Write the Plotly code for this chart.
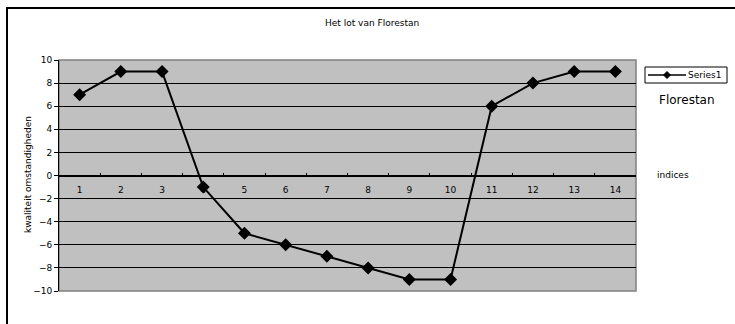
import plotly.graph_objects as go

# Florestan's fortunes over the story indices
indices = ["1", "2", "3", "4", "5", "6", "7", "8", "9", "10", "11", "12", "13", "14"]
kwaliteit = [7, 9, 9, -1, -5, -6, -7, -8, -9, -9, 6, 8, 9, 9]
y_ticks = [-10, -8, -6, -4, -2, 0, 2, 4, 6, 8, 10]
series_name = "Series1"

W, H = 735, 324
L, R, T, B = 59, 636, 60, 291  # plot area in pixels


def px_x(p):
    return (p - L) / (R - L)


def px_y(p):
    return (B - p) / (B - T)


FONT = "DejaVu Sans, Verdana, sans-serif"

fig = go.Figure()
fig.add_trace(go.Scatter(
    x=indices, y=kwaliteit, name=series_name, mode="lines+markers",
    line=dict(color="black", width=2),
    marker=dict(symbol="diamond", size=10, color="black"),
    showlegend=False,
))

fig.update_layout(
    width=W, height=H,
    margin=dict(l=L, r=W - R, t=T, b=H - B),
    paper_bgcolor="white",
    plot_bgcolor="#C0C0C0",
    font=dict(family=FONT, size=9, color="black"),
    xaxis=dict(
        type="category", tickson="boundaries",
        anchor="free", position=0.5,
        showline=True, linecolor="black", linewidth=1,
        ticks="inside", ticklen=3, tickcolor="black",
        showgrid=False, zeroline=False,
        tickfont=dict(size=9), ticklabelstandoff=6,
        range=[-0.5, 13.5],
    ),
    yaxis=dict(
        range=[-10, 10], tickvals=y_ticks,
        showline=True, linecolor="black", linewidth=1,
        ticks="outside", ticklen=4, tickcolor="black",
        showgrid=True, gridcolor="black", gridwidth=1,
        zeroline=False, tickfont=dict(size=9),
    ),
)

# gray border around the plot area
fig.add_shape(type="rect", xref="paper", yref="paper", x0=0, y0=0, x1=1, y1=1,
              line=dict(color="#808080", width=1.5), layer="below")
# outer chart frame
fig.add_shape(type="rect", xref="paper", yref="paper",
              x0=px_x(7), y0=px_y(8), x1=px_x(760), y1=px_y(360),
              line=dict(color="black", width=2))

# legend box with line/diamond key
fig.add_shape(type="rect", xref="paper", yref="paper",
              x0=px_x(645), y0=px_y(83), x1=px_x(727), y1=px_y(67),
              line=dict(color="black", width=1), fillcolor="white")
fig.add_shape(type="line", xref="paper", yref="paper",
              x0=px_x(648), y0=px_y(75), x1=px_x(686), y1=px_y(75),
              line=dict(color="black", width=1.5))
cx, cy, r = 667, 75, 3.5
fig.add_shape(type="path", xref="paper", yref="paper",
              path=(f"M {px_x(cx - r)} {px_y(cy)} L {px_x(cx)} {px_y(cy - r)} "
                    f"L {px_x(cx + r)} {px_y(cy)} L {px_x(cx)} {px_y(cy + r)} Z"),
              fillcolor="black", line=dict(color="black", width=1))
fig.add_annotation(text=series_name, xref="paper", yref="paper",
                   x=px_x(686), y=px_y(75), xanchor="left", yanchor="middle",
                   showarrow=False, font=dict(size=9))

fig.add_annotation(text="Het lot van Florestan", xref="paper", yref="paper",
                   x=px_x(372), y=px_y(23), xanchor="center", yanchor="middle",
                   showarrow=False, font=dict(size=9))
fig.add_annotation(text="kwaliteit omstandigheden", xref="paper", yref="paper",
                   x=px_x(28), y=px_y(175), xanchor="center", yanchor="middle",
                   textangle=-90, showarrow=False, font=dict(size=9))
fig.add_annotation(text="Florestan", xref="paper", yref="paper",
                   x=px_x(657), y=px_y(100), xanchor="left", yanchor="middle",
                   showarrow=False, font=dict(size=12))
fig.add_annotation(text="indices", xref="paper", yref="paper",
                   x=px_x(655), y=px_y(175), xanchor="left", yanchor="middle",
                   showarrow=False, font=dict(size=9))

fig.write_html("out.html")
